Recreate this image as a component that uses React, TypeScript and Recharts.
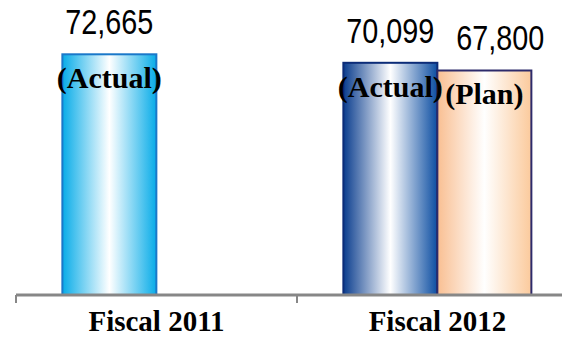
import React from "react";
import { BarChart, Bar, XAxis, YAxis, LabelList } from "recharts";

const categories = ["Fiscal 2011", "Fiscal 2012"];
const actualValues = [72665, 70099];
const planValues: (number | null)[] = [null, 67800];
const seriesTags = { actual: "(Actual)", plan: "(Plan)" };

const data = categories.map((name, i) => ({
  name,
  actual: actualValues[i],
  plan: planValues[i],
}));

const fmt = (v: number) => v.toLocaleString("en-US");

// value above bar + tag inside bar top
const makeLabel = (tag: string, dx: number) => (props: any) => {
  const { x, y, width, value } = props;
  if (value == null) return null;
  const cx = Number(x) + Number(width) / 2;
  return (
    <g>
      {/* no narrow font installed, squeeze the regular one */}
      <text
        x={cx + dx}
        y={Number(y) - 20}
        textAnchor="middle"
        fontSize={35}
        textLength={88}
        lengthAdjust="spacingAndGlyphs"
        fontFamily="'Liberation Sans', Arial, sans-serif"
        fill="#000"
      >
        {fmt(value)}
      </text>
      <text
        x={cx}
        y={Number(y) + 34}
        textAnchor="middle"
        fontSize={30}
        fontWeight="bold"
        fontFamily="'Liberation Serif', 'Times New Roman', serif"
        fill="#000"
      >
        {tag}
      </text>
    </g>
  );
};

const CategoryTick = (props: any) => {
  const { x, y, payload } = props;
  const half = payload && payload.offset ? payload.offset : 140.5;
  return (
    <g>
      <line x1={x - half} y1={y} x2={x - half} y2={y + 8} stroke="#878787" strokeWidth={2} />
      <text
        x={x}
        y={y + 36}
        textAnchor="middle"
        fontSize={29}
        fontWeight="bold"
        fontFamily="'Liberation Serif', 'Times New Roman', serif"
        fill="#000"
      >
        {payload.value}
      </text>
    </g>
  );
};

const ActualBarFill = (props: any) => {
  const { x, y, width, height, index } = props;
  const light = index === 0;
  return (
    <rect
      x={x}
      y={y}
      width={width}
      height={height}
      fill={light ? "url(#gradCyan)" : "url(#gradNavy)"}
      stroke={light ? "#1a78c9" : "#0c2c78"}
      strokeWidth={2}
    />
  );
};

export default function App() {
  return (
    <div
      style={{
        position: "absolute",
        left: 0,
        top: 0,
        width: 562,
        height: 337,
        overflow: "hidden",
        background: "#fff",
      }}
    >
      <BarChart
        width={600}
        height={337}
        data={data}
        margin={{ top: 30, right: 22, left: 16, bottom: 0 }}
        barCategoryGap="16.5%"
        barGap={0}
      >
        <defs>
          <linearGradient id="gradCyan" x1="0" y1="0" x2="1" y2="0">
            <stop offset="0%" stopColor="#08ace8" />
            <stop offset="50%" stopColor="#ffffff" />
            <stop offset="100%" stopColor="#08ace8" />
          </linearGradient>
          <linearGradient id="gradNavy" x1="0" y1="0" x2="1" y2="0">
            <stop offset="0%" stopColor="#0a3d8e" />
            <stop offset="50%" stopColor="#ffffff" />
            <stop offset="100%" stopColor="#0d4ea2" />
          </linearGradient>
          <linearGradient id="gradPeach" x1="0" y1="0" x2="1" y2="0">
            <stop offset="0%" stopColor="#f9bf92" />
            <stop offset="50%" stopColor="#ffffff" />
            <stop offset="100%" stopColor="#fbca9c" />
          </linearGradient>
        </defs>
        <XAxis
          dataKey="name"
          height={42}
          tickLine={false}
          tickSize={0}
          tickMargin={0}
          axisLine={{ stroke: "#878787", strokeWidth: 3 }}
          tick={<CategoryTick />}
          interval={0}
        />
        <YAxis hide domain={[0, 80000]} />
        <Bar dataKey="actual" shape={<ActualBarFill />} isAnimationActive={false}>
          <LabelList dataKey="actual" content={makeLabel(seriesTags.actual, 0)} />
        </Bar>
        <Bar
          dataKey="plan"
          fill="url(#gradPeach)"
          stroke="#2d2b6b"
          strokeWidth={2}
          isAnimationActive={false}
        >
          <LabelList dataKey="plan" content={makeLabel(seriesTags.plan, 16)} />
        </Bar>
      </BarChart>
    </div>
  );
}
